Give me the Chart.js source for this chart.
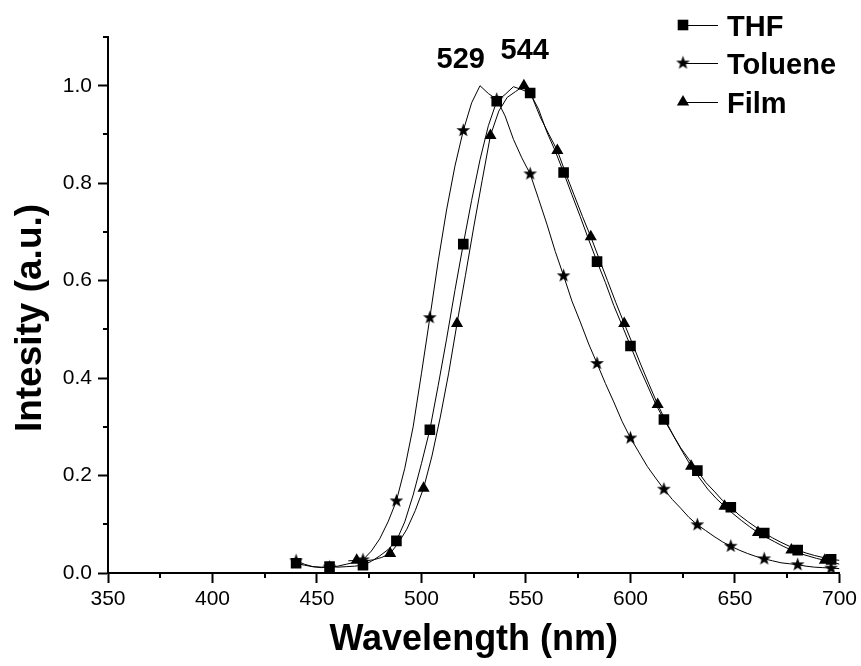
<!DOCTYPE html>
<html>
<head>
<meta charset="utf-8">
<script src="https://cdn.jsdelivr.net/npm/chart.js"></script>
<style>
    html, body { margin: 0; padding: 0; background: #ffffff; }
    #spectrum-chart { display: block; }
</style>
</head>
<body>
<canvas id="spectrum-chart" width="861" height="666"></canvas>
<script>
// =========================================================
// DATA
// =========================================================

// THF and Toluene share the same wavelength grid (nm)
const solutionWavelengths = [
    440, 444, 448, 452, 456, 460, 464, 468, 472, 476,
    480, 484, 488, 492, 496, 500, 504, 508, 512, 516,
    520, 524, 528, 532, 536, 540, 544, 548, 552, 556,
    560, 564, 568, 572, 576, 580, 584, 588, 592, 596,
    600, 604, 608, 612, 616, 620, 624, 628, 632, 636,
    640, 644, 648, 652, 656, 660, 664, 668, 672, 676,
    680, 684, 688, 692, 696, 700
];

const thfIntensity = [
    0.020, 0.016, 0.013, 0.012, 0.013, 0.012, 0.013, 0.014, 0.016, 0.024,
    0.035, 0.048, 0.066, 0.105, 0.160, 0.225, 0.294, 0.385, 0.480, 0.580,
    0.675, 0.765, 0.848, 0.918, 0.968, 0.982, 0.998, 0.992, 0.985, 0.952,
    0.905, 0.866, 0.822, 0.776, 0.731, 0.684, 0.639, 0.596, 0.549, 0.508,
    0.466, 0.424, 0.386, 0.347, 0.315, 0.286, 0.257, 0.233, 0.210, 0.186,
    0.168, 0.149, 0.135, 0.119, 0.106, 0.094, 0.082, 0.072, 0.063, 0.055,
    0.047, 0.041, 0.036, 0.032, 0.028, 0.026
];

const tolueneIntensity = [
    0.025, 0.018, 0.013, 0.011, 0.012, 0.014, 0.018, 0.022, 0.027, 0.045,
    0.070, 0.105, 0.148, 0.215, 0.300, 0.410, 0.524, 0.640, 0.745, 0.835,
    0.908, 0.965, 1.000, 0.984, 0.972, 0.938, 0.890, 0.852, 0.819, 0.768,
    0.716, 0.660, 0.610, 0.558, 0.515, 0.470, 0.430, 0.389, 0.351, 0.311,
    0.277, 0.248, 0.219, 0.195, 0.172, 0.151, 0.133, 0.114, 0.099, 0.087,
    0.075, 0.064, 0.055, 0.047, 0.040, 0.034, 0.029, 0.025, 0.021, 0.019,
    0.017, 0.014, 0.012, 0.011, 0.010, 0.009
];

const filmWavelengths = [
    465, 469, 473, 477, 481, 485, 489, 493, 497, 501,
    505, 509, 513, 517, 521, 525, 529, 533, 537, 541,
    545, 549, 553, 557, 561, 565, 569, 573, 577, 581,
    585, 589, 593, 597, 601, 605, 609, 613, 617, 621,
    625, 629, 633, 637, 641, 645, 649, 653, 657, 661,
    665, 669, 673, 677, 681, 685, 689, 693, 697, 700
];

const filmIntensity = [
    0.025, 0.026, 0.025, 0.027, 0.032, 0.040, 0.062, 0.090, 0.128, 0.174,
    0.240, 0.320, 0.410, 0.512, 0.610, 0.710, 0.805, 0.898, 0.948, 0.976,
    0.988, 1.000, 0.976, 0.934, 0.900, 0.867, 0.820, 0.776, 0.732, 0.690,
    0.645, 0.600, 0.555, 0.512, 0.470, 0.427, 0.386, 0.346, 0.311, 0.278,
    0.248, 0.219, 0.195, 0.172, 0.153, 0.137, 0.122, 0.108, 0.095, 0.083,
    0.073, 0.064, 0.055, 0.047, 0.040, 0.035, 0.030, 0.026, 0.022, 0.018
];

// wavelengths where a symbol is drawn on each curve
const thfMarkerWavelengths = [440, 456, 472, 488, 504, 520, 536, 552, 568, 584, 600, 616, 632, 648, 664, 680, 696];
const tolueneMarkerWavelengths = [440, 456, 472, 488, 504, 520, 536, 552, 568, 584, 600, 616, 632, 648, 664, 680, 696];
const filmMarkerWavelengths = [469, 485, 501, 517, 533, 549, 565, 581, 597, 613, 629, 645, 661, 677, 693];

const seriesNames = ["THF", "Toluene", "Film"];

// peak annotations
const peakLabels = ["529", "544"];
const peakLabelWavelengths = [518.8, 549.4];
const peakLabelIntensity = [1.053, 1.072];

// tick labels
const xTickLabels = [350, 400, 450, 500, 550, 600, 650, 700];
const yTickLabels = [0.0, 0.2, 0.4, 0.6, 0.8, 1.0];

const yAxisTitle = "Intesity (a.u.)";

// =========================================================
// STYLE
// =========================================================

const INK = "#000000";
const TICK_FONT = { family: "'Liberation Sans', Arial, sans-serif", size: 21 };
const X_TITLE_FONT = { family: "'Liberation Sans', Arial, sans-serif", size: 36, weight: "bold" };
const Y_TITLE_FONT = "bold 37px 'Liberation Sans', Arial, sans-serif";
const LABEL_FONT = "bold 29px 'Liberation Sans', Arial, sans-serif";

// --- Helpers --- //

function buildPoints(wavelengths, intensities) {
    const points = [];

    for (let index = 0; index < wavelengths.length; index++) {
        points.push({ x: wavelengths[index], y: intensities[index] });
    }

    return points;
}

function createStarImage(outerRadius, innerRadius) {
    const size = Math.ceil(outerRadius * 2) + 2;
    const canvas = document.createElement("canvas");
    canvas.width = size;
    canvas.height = size;

    const context = canvas.getContext("2d");
    const center = size / 2;

    context.beginPath();
    for (let pointIndex = 0; pointIndex < 10; pointIndex++) {
        const radius = pointIndex % 2 === 0 ? outerRadius : innerRadius;
        const angle = -Math.PI / 2 + pointIndex * Math.PI / 5;
        const px = center + Math.cos(angle) * radius;
        const py = center + Math.sin(angle) * radius;

        if (pointIndex === 0) {
            context.moveTo(px, py);
        } else {
            context.lineTo(px, py);
        }
    }
    context.closePath();
    context.fillStyle = INK;
    context.fill();

    return canvas;
}

function isLabelledValue(value, labels, tolerance) {
    return labels.some(label => Math.abs(label - value) < tolerance);
}

const starImage = createStarImage(7.2, 2.9);

function markerRadius(markerWavelengths, radius) {
    return function (context) {
        const raw = context.raw;
        if (raw === undefined) {
            return 0;
        }
        return markerWavelengths.includes(raw.x) ? radius : 0;
    };
}

function createSeries(label, points, markerWavelengths, pointStyle, radius, drawOrder) {
    return {
        label: label,
        data: points,
        order: drawOrder,
        borderColor: INK,
        backgroundColor: INK,
        borderWidth: 1,
        tension: 0,
        fill: false,
        pointStyle: pointStyle,
        pointRadius: markerRadius(markerWavelengths, radius),
        pointBorderWidth: 0,
        pointBackgroundColor: INK,
        pointBorderColor: INK
    };
}

// --- Decorations (minor ticks, y title, peak labels, legend) --- //

function drawMinorTicks(chart) {
    const context = chart.ctx;
    const xScale = chart.scales.x;
    const yScale = chart.scales.y;
    const area = chart.chartArea;

    context.save();
    context.strokeStyle = INK;
    context.lineWidth = 2;
    context.beginPath();

    xScale.ticks.forEach(function (tick) {
        if (isLabelledValue(tick.value, xTickLabels, 0.5)) {
            return;
        }
        const px = Math.round(xScale.getPixelForValue(tick.value));
        context.moveTo(px, area.bottom);
        context.lineTo(px, area.bottom + 5);
    });

    yScale.ticks.forEach(function (tick) {
        if (isLabelledValue(tick.value, yTickLabels, 0.01)) {
            return;
        }
        const py = Math.round(yScale.getPixelForValue(tick.value));
        context.moveTo(area.left, py);
        context.lineTo(area.left - 5, py);
    });

    context.stroke();
    context.restore();
}

function drawYAxisTitle(chart) {
    const context = chart.ctx;

    context.save();
    context.translate(31, 318);
    context.rotate(-Math.PI / 2);
    context.fillStyle = INK;
    context.font = Y_TITLE_FONT;
    context.textAlign = "center";
    context.textBaseline = "middle";
    context.fillText(yAxisTitle, 0, 0);
    context.restore();
}

function drawPeakLabels(chart) {
    const context = chart.ctx;
    const xScale = chart.scales.x;
    const yScale = chart.scales.y;

    context.save();
    context.fillStyle = INK;
    context.font = LABEL_FONT;
    context.textAlign = "center";
    context.textBaseline = "middle";

    for (let labelIndex = 0; labelIndex < peakLabels.length; labelIndex++) {
        const px = xScale.getPixelForValue(peakLabelWavelengths[labelIndex]);
        const py = yScale.getPixelForValue(peakLabelIntensity[labelIndex]);
        context.fillText(peakLabels[labelIndex], px, py);
    }

    context.restore();
}

function drawLegendSymbol(context, style, x, y) {
    context.fillStyle = INK;

    if (style === "rect") {
        context.fillRect(x - 5.3, y - 5.3, 10.6, 10.6);
    } else if (style === "triangle") {
        context.beginPath();
        context.moveTo(x, y - 7);
        context.lineTo(x + 6.1, y + 3.5);
        context.lineTo(x - 6.1, y + 3.5);
        context.closePath();
        context.fill();
    } else {
        context.drawImage(style, x - style.width / 2, y - style.height / 2);
    }
}

function drawLegend(chart) {
    const context = chart.ctx;
    const rowsY = [25, 63, 102];
    const symbolX = 683;
    const lineEndX = 718;
    const textX = 727;

    context.save();
    context.font = LABEL_FONT;
    context.textAlign = "left";
    context.textBaseline = "alphabetic";

    chart.data.datasets.forEach(function (dataset, datasetIndex) {
        const rowY = rowsY[datasetIndex];

        context.strokeStyle = INK;
        context.lineWidth = 1;
        context.beginPath();
        context.moveTo(symbolX, rowY + 0.5);
        context.lineTo(lineEndX, rowY + 0.5);
        context.stroke();

        drawLegendSymbol(context, dataset.pointStyle, symbolX, rowY);

        context.fillStyle = INK;
        context.fillText(dataset.label, textX, rowY + 11);
    });

    context.restore();
}

const decorationsPlugin = {
    id: "spectrumDecorations",
    afterDraw: function (chart) {
        drawMinorTicks(chart);
        drawYAxisTitle(chart);
        drawPeakLabels(chart);
        drawLegend(chart);
    }
};

// =========================================================
// CHART
// =========================================================

const chartCanvas = document.getElementById("spectrum-chart");

new Chart(chartCanvas, {
    type: "line",
    data: {
        datasets: [
            createSeries(seriesNames[0], buildPoints(solutionWavelengths, thfIntensity), thfMarkerWavelengths, "rect", 7.5, 0),
            createSeries(seriesNames[1], buildPoints(solutionWavelengths, tolueneIntensity), tolueneMarkerWavelengths, starImage, 7, 2),
            createSeries(seriesNames[2], buildPoints(filmWavelengths, filmIntensity), filmMarkerWavelengths, "triangle", 7, 1)
        ]
    },
    options: {
        responsive: false,
        animation: false,
        events: [],
        layout: {
            padding: { top: 37, right: 21, bottom: 0, left: 0 }
        },
        scales: {
            x: {
                type: "linear",
                min: 350,
                max: 700,
                afterFit: function (scale) { scale.height = 93; },
                ticks: {
                    stepSize: 25,
                    autoSkip: false,
                    maxRotation: 0,
                    padding: 4,
                    color: INK,
                    font: TICK_FONT,
                    callback: function (value) {
                        return isLabelledValue(value, xTickLabels, 0.5) ? String(value) : "";
                    }
                },
                grid: {
                    drawOnChartArea: false,
                    drawTicks: true,
                    tickLength: 10,
                    tickWidth: 2,
                    tickColor: function (context) {
                        return isLabelledValue(context.tick.value, xTickLabels, 0.5) ? INK : "rgba(0,0,0,0)";
                    }
                },
                border: { display: true, color: INK, width: 2 },
                title: {
                    display: true,
                    text: "Wavelength (nm)",
                    color: INK,
                    font: X_TITLE_FONT,
                    padding: { top: 0, bottom: 4 }
                }
            },
            y: {
                type: "linear",
                min: 0,
                max: 1.1,
                afterFit: function (scale) { scale.width = 108; },
                ticks: {
                    stepSize: 0.1,
                    autoSkip: false,
                    padding: 6,
                    color: INK,
                    font: TICK_FONT,
                    callback: function (value) {
                        return isLabelledValue(value, yTickLabels, 0.01) ? value.toFixed(1) : "";
                    }
                },
                grid: {
                    drawOnChartArea: false,
                    drawTicks: true,
                    tickLength: 10,
                    tickWidth: 2,
                    tickColor: function (context) {
                        return isLabelledValue(context.tick.value, yTickLabels, 0.01) ? INK : "rgba(0,0,0,0)";
                    }
                },
                border: { display: true, color: INK, width: 2 },
                title: { display: false }
            }
        },
        plugins: {
            legend: { display: false },
            tooltip: { enabled: false }
        }
    },
    plugins: [decorationsPlugin]
});
</script>
</body>
</html>
